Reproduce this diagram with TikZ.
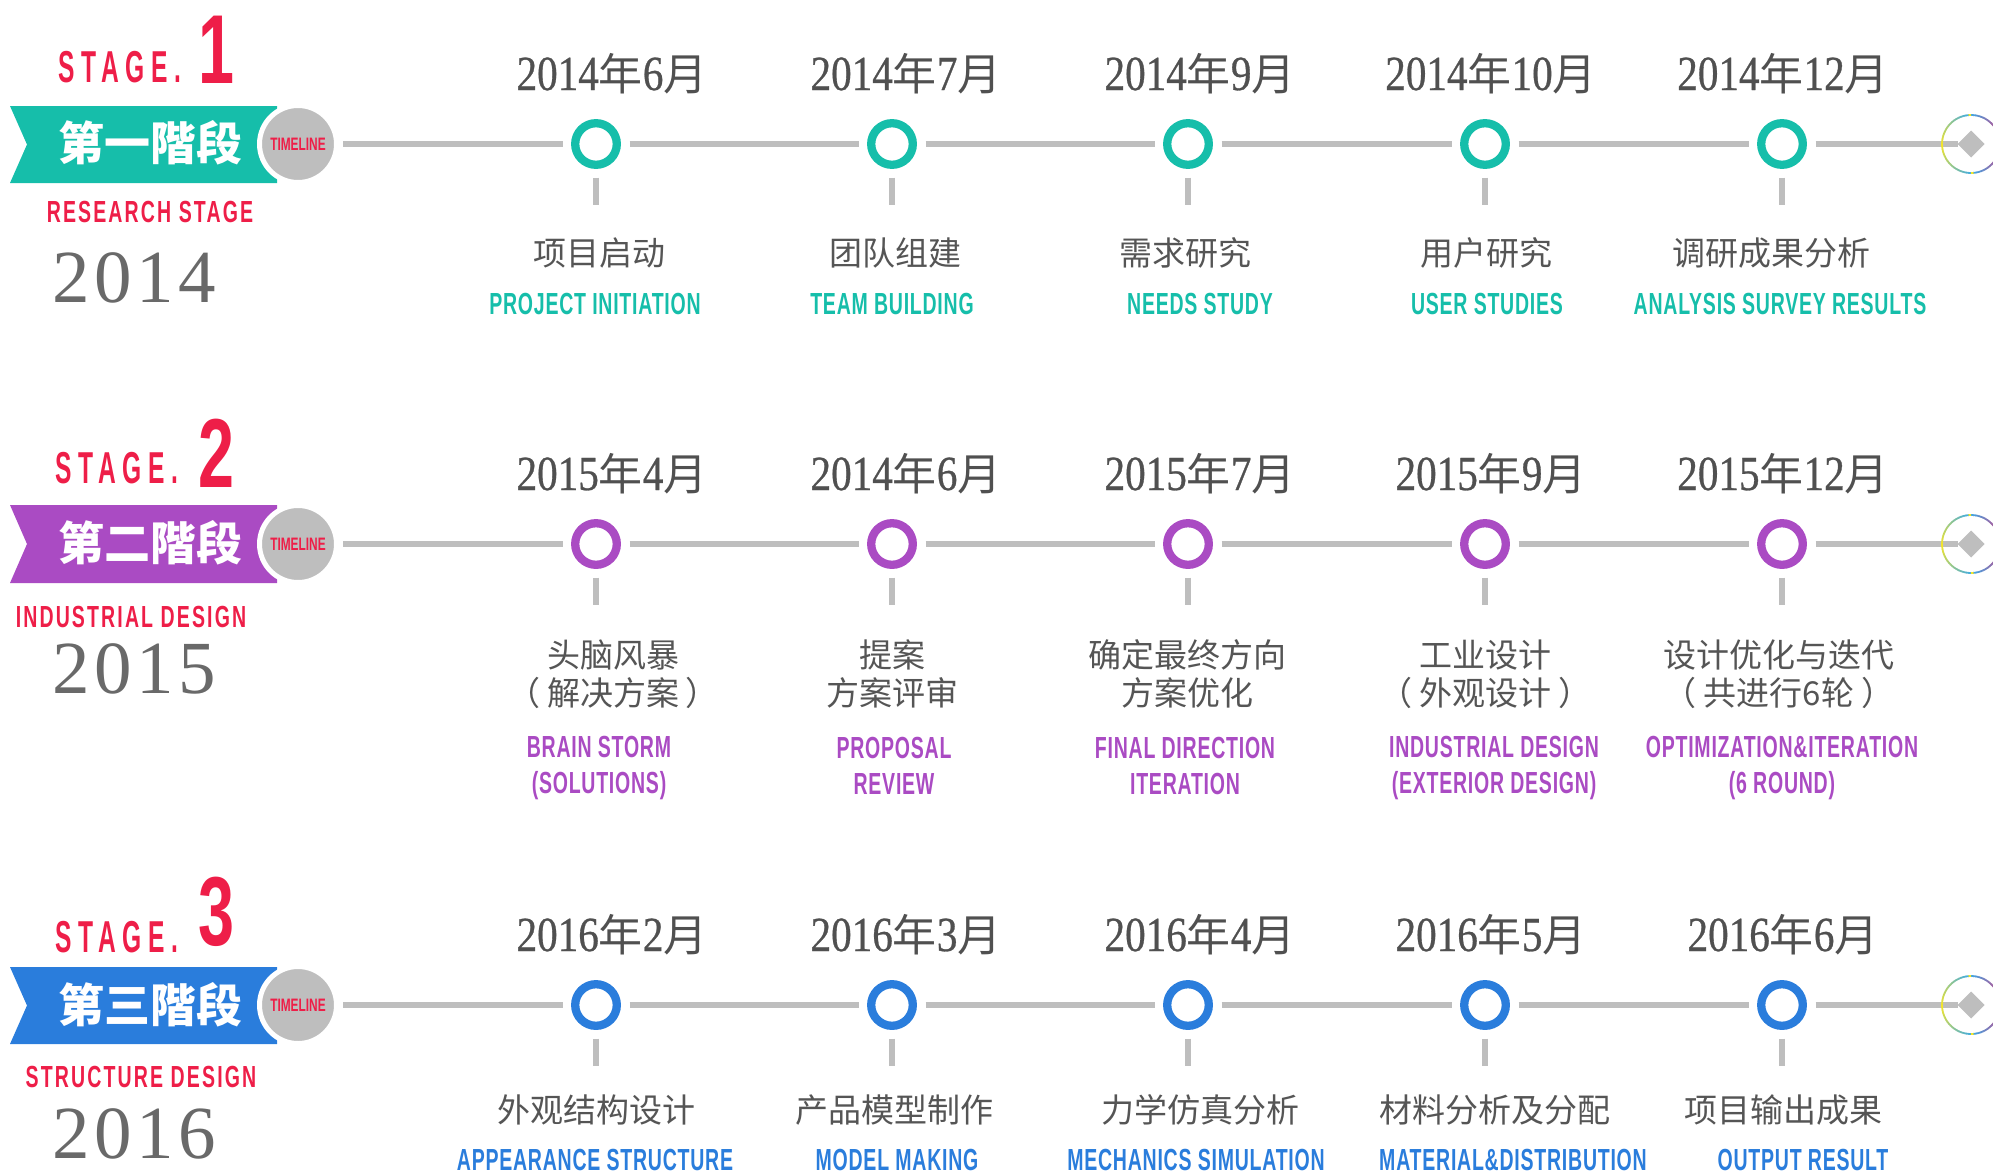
\documentclass[tikz,border=0pt]{standalone}
\usepackage{fontspec}
\usetikzlibrary{shapes.geometric}
\newfontfamily\cjk{Noto Sans CJK SC}
\newfontfamily\condf{Liberation Sans}[FakeStretch=0.66]
\newfontfamily\labf{Liberation Sans}[FakeStretch=0.64,LetterSpace=2.5]
\newfontfamily\subf{Liberation Sans}[FakeStretch=0.64,LetterSpace=7]
\newfontfamily\stagef{Liberation Sans}[FakeStretch=0.55,LetterSpace=15]
\newfontfamily\serifd{Liberation Serif}[FakeStretch=0.84,FakeBold=0.6]
\newfontfamily\yearf{Liberation Serif}[LetterSpace=6]
\definecolor{cteal}{RGB}{22,190,170}
\definecolor{cpurple}{RGB}{170,75,195}
\definecolor{cblue}{RGB}{42,125,220}
\definecolor{cred}{RGB}{238,30,72}
\definecolor{cline}{RGB}{190,190,190}
\definecolor{cdate}{RGB}{80,80,80}
\definecolor{clabel}{RGB}{85,85,85}
\definecolor{cyear}{RGB}{105,105,105}
\definecolor{ringR}{RGB}{235,40,110}
\definecolor{ringB}{RGB}{60,170,230}
\definecolor{ringY}{RGB}{245,230,40}
\newcommand\mydate[2]{#1{\cjk\fontsize{44}{44}\selectfont 年}#2{\cjk\fontsize{44}{44}\selectfont 月}}
\newcommand\pgap{\hspace{7pt}}
\newcommand\colorring[1]{%
  \foreach \a in {0,5,...,355}{%
    \pgfmathsetmacro\dd{min(\a,360-\a)}%
    \pgfmathtruncatemacro\pp{\dd<=90 ? 100-\dd/90*100 : 100-(\dd-90)/90*100}%
    \ifdim\dd pt<90pt \def\rc{ringR!\pp!ringB}\else\def\rc{ringB!\pp!ringY}\fi
    \draw[line width=1.8pt, draw=\rc, shift={(#1.center)}] (\a:29pt) arc[start angle=\a, end angle=\a+5.6, radius=29pt];
  }}
\begin{document}
\begin{tikzpicture}[x=1pt,y=-1pt,
  tl/.style={draw=cline, line width=6.5pt},
  ms/.style={circle, draw=#1, fill=white, line width=8.3pt, minimum size=41.6pt, inner sep=0pt, outer sep=12.7pt},
  tlcirc/.style={circle, fill=cline, draw=white, line width=5pt, minimum size=77pt, inner sep=0pt, outer sep=6.5pt,
     text=cred, font=\condf\bfseries\fontsize{18}{18}\selectfont},
  endmark/.style={diamond, fill=cline, minimum width=27pt, minimum height=27pt, inner sep=0pt, outer sep=0pt},
  datelbl/.style={anchor=base, text=cdate, font=\serifd\fontsize{49}{49}\selectfont, inner sep=0pt},
  cnlbl/.style={text=clabel, font=\cjk\fontsize{33}{38}\selectfont, inner sep=0pt, align=center},
  enlbl/.style={text=#1, font=\labf\bfseries\fontsize{30.5}{36}\selectfont, inner sep=0pt, align=center},
  bannertxt/.style={text=white, font=\cjk\bfseries\fontsize{46}{46}\selectfont, inner sep=0pt},
  stagelbl/.style={anchor=base west, text=cred, font=\stagef\bfseries\fontsize{44.7}{44.7}\selectfont, inner sep=0pt},
  stagenum/.style={anchor=base, text=cred, font=\condf\bfseries\fontsize{98}{98}\selectfont, inner sep=0pt},
  sublbl/.style={anchor=base, text=cred, font=\subf\bfseries\fontsize{30.5}{30.5}\selectfont, inner sep=0pt},
  yearlbl/.style={anchor=base, text=cyear, font=\yearf\fontsize{75}{75}\selectfont, inner sep=0pt}
]
\useasboundingbox (0,0) rectangle (1993,1175);

% ================= ROW 1 =================
\fill[cteal] (10,106) -- (277,106) -- (277,183) -- (10,183) -- (27,144.5) -- cycle;
\node[tlcirc] (t1) at (298,144) {TIMELINE};
\node[bannertxt] (b1) at (150,143) {第一階段};
\node[stagelbl] (s1) at (58,82) {STAGE.};
\node[stagenum] (n1) at (216,83) {1};
\node[sublbl] (u1) at (150,222) {RESEARCH STAGE};
\node[yearlbl] (y1) at (134,302) {2014};

\node[ms=cteal] (a11) at (596,144) {};
\node[ms=cteal] (a12) at (892,144) {};
\node[ms=cteal] (a13) at (1188,144) {};
\node[ms=cteal] (a14) at (1485,144) {};
\node[ms=cteal] (a15) at (1782,144) {};
\node[endmark] (e1) at (1971,144) {};
\draw[tl] (t1) -- (a11);
\draw[tl] (a11) -- (a12);
\draw[tl] (a12) -- (a13);
\draw[tl] (a13) -- (a14);
\draw[tl] (a14) -- (a15);
\draw[tl] (a15) -- (e1.west);
\colorring{e1}
\foreach \n in {a11,a12,a13,a14,a15}{\draw[tl] (\n.south) -- ++(0,27);}

\node[datelbl] (d11) at (612,90) {\mydate{2014}{6}};
\node[datelbl] (d12) at (906,90) {\mydate{2014}{7}};
\node[datelbl] (d13) at (1200,90) {\mydate{2014}{9}};
\node[datelbl] (d14) at (1491,90) {\mydate{2014}{10}};
\node[datelbl] (d15) at (1783,90) {\mydate{2014}{12}};

\node[cnlbl] (c11) at (599,253) {项目启动};
\node[cnlbl] (c12) at (895,253) {团队组建};
\node[cnlbl] (c13) at (1185,253) {需求研究};
\node[cnlbl] (c14) at (1486,253) {用户研究};
\node[cnlbl] (c15) at (1771,253) {调研成果分析};

\node[enlbl=cteal] (g11) at (595,304) {PROJECT INITIATION};
\node[enlbl=cteal] (g12) at (892,304) {TEAM BUILDING};
\node[enlbl=cteal] (g13) at (1200,304) {NEEDS STUDY};
\node[enlbl=cteal] (g14) at (1487,304) {USER STUDIES};
\node[enlbl=cteal] (g15) at (1780,304) {ANALYSIS SURVEY RESULTS};

% ================= ROW 2 =================
\fill[cpurple] (10,505) -- (277,505) -- (277,583) -- (10,583) -- (27,544) -- cycle;
\node[tlcirc] (t2) at (298,544) {TIMELINE};
\node[bannertxt] (b2) at (150,543) {第二階段};
\node[stagelbl] (s2) at (55,483) {STAGE.};
\node[stagenum] (n2) at (216,487) {2};
\node[sublbl] (u2) at (131,627) {INDUSTRIAL DESIGN};
\node[yearlbl] (y2) at (134,693) {2015};

\node[ms=cpurple] (a21) at (596,544) {};
\node[ms=cpurple] (a22) at (892,544) {};
\node[ms=cpurple] (a23) at (1188,544) {};
\node[ms=cpurple] (a24) at (1485,544) {};
\node[ms=cpurple] (a25) at (1782,544) {};
\node[endmark] (e2) at (1971,544) {};
\draw[tl] (t2) -- (a21);
\draw[tl] (a21) -- (a22);
\draw[tl] (a22) -- (a23);
\draw[tl] (a23) -- (a24);
\draw[tl] (a24) -- (a25);
\draw[tl] (a25) -- (e2.west);
\colorring{e2}
\foreach \n in {a21,a22,a23,a24,a25}{\draw[tl] (\n.south) -- ++(0,27);}

\node[datelbl] (d21) at (612,490) {\mydate{2015}{4}};
\node[datelbl] (d22) at (906,490) {\mydate{2014}{6}};
\node[datelbl] (d23) at (1200,490) {\mydate{2015}{7}};
\node[datelbl] (d24) at (1491,490) {\mydate{2015}{9}};
\node[datelbl] (d25) at (1783,490) {\mydate{2015}{12}};

\node[cnlbl] (c21) at (613,674) {头脑风暴\\（\pgap 解决方案\pgap ）};
\node[cnlbl] (c22) at (892,674) {提案\\方案评审};
\node[cnlbl] (c23) at (1187,674) {确定最终方向\\方案优化};
\node[cnlbl] (c24) at (1485,674) {工业设计\\（\pgap 外观设计\pgap ）};
\node[cnlbl] (c25) at (1779,674) {设计优化与迭代\\（\pgap 共进行6轮\pgap ）};

\node[enlbl=cpurple] (g21) at (599,768) {BRAIN STORM\\(SOLUTIONS)};
\node[enlbl=cpurple] (g22) at (894,766) {PROPOSAL\\REVIEW};
\node[enlbl=cpurple] (g23) at (1185,766) {FINAL DIRECTION\\ITERATION};
\node[enlbl=cpurple] (g24) at (1494,768) {INDUSTRIAL DESIGN\\(EXTERIOR DESIGN)};
\node[enlbl=cpurple] (g25) at (1782,768) {OPTIMIZATION\&ITERATION\\(6 ROUND)};

% ================= ROW 3 =================
\fill[cblue] (10,967) -- (277,967) -- (277,1044) -- (10,1044) -- (27,1005.5) -- cycle;
\node[tlcirc] (t3) at (298,1005) {TIMELINE};
\node[bannertxt] (b3) at (150,1005) {第三階段};
\node[stagelbl] (s3) at (55,952) {STAGE.};
\node[stagenum] (n3) at (216,945) {3};
\node[sublbl] (u3) at (141,1087) {STRUCTURE DESIGN};
\node[yearlbl] (y3) at (134,1158) {2016};

\node[ms=cblue] (a31) at (596,1005) {};
\node[ms=cblue] (a32) at (892,1005) {};
\node[ms=cblue] (a33) at (1188,1005) {};
\node[ms=cblue] (a34) at (1485,1005) {};
\node[ms=cblue] (a35) at (1782,1005) {};
\node[endmark] (e3) at (1971,1005) {};
\draw[tl] (t3) -- (a31);
\draw[tl] (a31) -- (a32);
\draw[tl] (a32) -- (a33);
\draw[tl] (a33) -- (a34);
\draw[tl] (a34) -- (a35);
\draw[tl] (a35) -- (e3.west);
\colorring{e3}
\foreach \n in {a31,a32,a33,a34,a35}{\draw[tl] (\n.south) -- ++(0,27);}

\node[datelbl] (d31) at (612,951) {\mydate{2016}{2}};
\node[datelbl] (d32) at (906,951) {\mydate{2016}{3}};
\node[datelbl] (d33) at (1200,951) {\mydate{2016}{4}};
\node[datelbl] (d34) at (1491,951) {\mydate{2016}{5}};
\node[datelbl] (d35) at (1783,951) {\mydate{2016}{6}};

\node[cnlbl] (c31) at (596,1110) {外观结构设计};
\node[cnlbl] (c32) at (894,1110) {产品模型制作};
\node[cnlbl] (c33) at (1200,1110) {力学仿真分析};
\node[cnlbl] (c34) at (1495,1110) {材料分析及分配};
\node[cnlbl] (c35) at (1783,1110) {项目输出成果};

\node[enlbl=cblue] (g31) at (595,1160) {APPEARANCE STRUCTURE};
\node[enlbl=cblue] (g32) at (897,1160) {MODEL MAKING};
\node[enlbl=cblue] (g33) at (1196,1160) {MECHANICS SIMULATION};
\node[enlbl=cblue] (g34) at (1513,1160) {MATERIAL\&DISTRIBUTION};
\node[enlbl=cblue] (g35) at (1803,1160) {OUTPUT RESULT};
\end{tikzpicture}
\end{document}
